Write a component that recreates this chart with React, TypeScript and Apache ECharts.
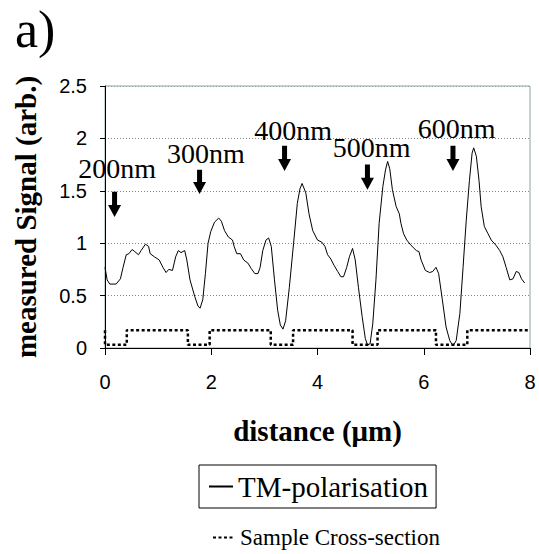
import React, { useEffect, useRef } from "react";
import * as echarts from "echarts";

// TM-polarisation measured signal
const tmX = [0, 0.04, 0.09, 0.21, 0.29, 0.34, 0.4, 0.45, 0.51, 0.56, 0.63, 0.68, 0.76, 0.82, 0.85, 0.93, 1.02, 1.09, 1.15, 1.2, 1.27, 1.33, 1.38, 1.43, 1.5, 1.54, 1.6, 1.69, 1.75, 1.79, 1.84, 1.89, 1.94, 1.99, 2.06, 2.14, 2.19, 2.25, 2.32, 2.4, 2.43, 2.48, 2.55, 2.61, 2.69, 2.75, 2.82, 2.88, 2.92, 2.97, 3.03, 3.08, 3.13, 3.19, 3.25, 3.3, 3.35, 3.4, 3.47, 3.55, 3.62, 3.67, 3.71, 3.78, 3.84, 3.91, 4.0, 4.08, 4.14, 4.19, 4.25, 4.31, 4.38, 4.44, 4.49, 4.55, 4.6, 4.66, 4.71, 4.77, 4.84, 4.9, 4.94, 4.99, 5.04, 5.1, 5.16, 5.23, 5.28, 5.32, 5.36, 5.41, 5.48, 5.54, 5.57, 5.62, 5.68, 5.76, 5.86, 5.91, 5.95, 6.03, 6.11, 6.17, 6.23, 6.28, 6.35, 6.42, 6.49, 6.55, 6.61, 6.68, 6.74, 6.8, 6.86, 6.91, 6.94, 6.99, 7.04, 7.08, 7.14, 7.21, 7.27, 7.36, 7.43, 7.49, 7.55, 7.62, 7.68, 7.74, 7.79, 7.84, 7.9];
const tmY = [0.77, 0.65, 0.61, 0.61, 0.66, 0.77, 0.89, 0.9, 0.94, 0.92, 0.89, 0.93, 0.99, 0.97, 0.9, 0.87, 0.84, 0.77, 0.72, 0.75, 0.74, 0.87, 0.93, 0.91, 0.93, 0.84, 0.65, 0.49, 0.4, 0.38, 0.46, 0.71, 1.0, 1.11, 1.2, 1.24, 1.21, 1.12, 1.06, 1.03, 0.97, 0.9, 0.9, 0.84, 0.81, 0.76, 0.71, 0.71, 0.77, 0.93, 1.03, 1.05, 0.97, 0.65, 0.36, 0.22, 0.18, 0.26, 0.58, 1.0, 1.38, 1.52, 1.57, 1.48, 1.28, 1.12, 1.03, 1.01, 0.97, 0.89, 0.85, 0.79, 0.73, 0.68, 0.68, 0.77, 0.87, 0.95, 0.84, 0.58, 0.3, 0.09, 0.03, 0.04, 0.23, 0.65, 1.19, 1.54, 1.7, 1.78, 1.71, 1.51, 1.35, 1.28, 1.19, 1.09, 1.03, 0.98, 0.93, 0.92, 0.84, 0.74, 0.72, 0.73, 0.77, 0.71, 0.46, 0.2, 0.07, 0.02, 0.07, 0.33, 0.77, 1.22, 1.6, 1.86, 1.91, 1.83, 1.6, 1.35, 1.16, 1.09, 1.03, 0.98, 0.93, 0.87, 0.77, 0.65, 0.66, 0.73, 0.72, 0.66, 0.62];

// Sample cross-section profile
const sampleX = [0, 0, 0.41, 0.41, 1.56, 1.56, 1.97, 1.97, 3.12, 3.12, 3.54, 3.54, 4.66, 4.66, 5.13, 5.13, 6.23, 6.23, 6.82, 6.82, 8];
const sampleY = [0.17, 0.03, 0.03, 0.17, 0.17, 0.03, 0.03, 0.17, 0.17, 0.03, 0.03, 0.17, 0.17, 0.03, 0.03, 0.17, 0.17, 0.03, 0.03, 0.17, 0.17];

// Annotations
const labelText = ["200nm", "300nm", "400nm", "500nm", "600nm"];
const arrowX = [0.18, 1.78, 3.38, 4.94, 6.55];
const arrowTip = [1.25, 1.47, 1.69, 1.51, 1.69];
const arrowTop = [1.49, 1.7, 1.93, 1.75, 1.93];
const labelX = [0.23, 1.9, 3.54, 5.02, 6.62];
const labelBaseline = [1.635, 1.78, 2.0, 1.84, 2.02];

const xTicks = { min: 0, max: 8, interval: 2 };
const yTicks = { min: 0, max: 2.5, interval: 0.5 };

export default function App() {
  const ref = useRef<HTMLDivElement>(null);
  useEffect(() => {
    if (!ref.current) return;
    const chart = echarts.init(ref.current, null, { renderer: "svg" });
    const serif = "'Liberation Serif', 'Times New Roman', serif";
    const sans = "'Liberation Sans', Arial, sans-serif";
    const annData = arrowX.map((x, i) => [x, arrowTip[i], arrowTop[i], labelX[i], labelBaseline[i]]);
    chart.setOption({
      animation: false,
      backgroundColor: "#fff",
      title: {
        text: "a)",
        left: 10,
        top: -2,
        textStyle: { fontFamily: serif, fontSize: 52, fontWeight: "normal", color: "#000" },
      },
      grid: {
        left: 105,
        top: 86,
        right: 9,
        bottom: 206,
        show: true,
        borderColor: "#8fa3a3",
        borderWidth: 1,
        backgroundColor: "transparent",
      },
      xAxis: {
        type: "value",
        min: xTicks.min,
        max: xTicks.max,
        interval: xTicks.interval,
        name: "distance (μm)",
        nameLocation: "middle",
        nameGap: 68,
        nameTextStyle: { fontFamily: serif, fontSize: 29, fontWeight: "bold", color: "#000" },
        axisLine: { show: true, onZero: false, lineStyle: { color: "#000", width: 1 } },
        axisTick: { show: true, inside: false, length: 7, lineStyle: { color: "#000" } },
        axisLabel: { fontFamily: sans, fontSize: 20, color: "#000", margin: 24 },
        splitLine: { show: false },
      },
      yAxis: {
        type: "value",
        min: yTicks.min,
        max: yTicks.max,
        interval: yTicks.interval,
        name: "measured Signal (arb.)",
        nameLocation: "middle",
        nameRotate: 90,
        nameGap: 65,
        nameTextStyle: { fontFamily: serif, fontSize: 29, fontWeight: "bold", color: "#000" },
        axisLine: { show: true, onZero: false, lineStyle: { color: "#000", width: 1 } },
        axisTick: { show: true, inside: false, length: 5, lineStyle: { color: "#000" } },
        axisLabel: { fontFamily: sans, fontSize: 20, color: "#000", margin: 18 },
        splitLine: {
          show: true,
          lineStyle: { color: ["#888", "#888", "#888", "#888", "#888", "#8fa3a3"], type: [1, 2], width: 1 },
        },
      },
      legend: [
        {
          data: ["TM-polarisation"],
          left: 199,
          top: 465,
          orient: "vertical",
          padding: [7, 8, 7, 9],
          borderColor: "#000",
          borderWidth: 1,
          itemWidth: 24,
          itemHeight: 14,
          selectedMode: false,
          itemStyle: { opacity: 0 },
          textStyle: { fontFamily: serif, fontSize: 29, color: "#000" },
        },
        {
          data: ["Sample Cross-section"],
          left: 212,
          top: 526,
          orient: "vertical",
          padding: 0,
          itemWidth: 22,
          itemHeight: 14,
          selectedMode: false,
          itemStyle: { opacity: 0 },
          textStyle: { fontFamily: serif, fontSize: 23, color: "#000" },
        },
      ],
      series: [
        {
          name: "TM-polarisation",
          type: "line",
          data: tmX.map((x, i) => [x, tmY[i]]),
          symbol: "none",
          showSymbol: false,
          lineStyle: { color: "#000", width: 1 },
          itemStyle: { color: "#000" },
          z: 3,
        },
        {
          name: "Sample Cross-section",
          type: "line",
          data: sampleX.map((x, i) => [x, sampleY[i]]),
          symbol: "none",
          showSymbol: false,
          lineStyle: { color: "#000", width: 2.5, type: [3, 2.5] },
          itemStyle: { color: "#000" },
          z: 2,
        },
        {
          name: "annotations",
          type: "custom",
          clip: false,
          data: annData,
          encode: { x: 0, y: 1 },
          z: 4,
          renderItem: (params: any, api: any) => {
            const x = api.value(0);
            const tip = api.coord([x, api.value(1)]);
            const top = api.coord([x, api.value(2)]);
            const lab = api.coord([api.value(3), api.value(4)]);
            const cx = tip[0];
            const hw = 2.5;
            const headW = 6.5;
            const headH = 12;
            return {
              type: "group",
              children: [
                {
                  type: "polygon",
                  shape: {
                    points: [
                      [cx - hw, top[1]],
                      [cx + hw, top[1]],
                      [cx + hw, tip[1] - headH],
                      [cx + headW, tip[1] - headH],
                      [cx, tip[1]],
                      [cx - headW, tip[1] - headH],
                      [cx - hw, tip[1] - headH],
                    ],
                  },
                  style: { fill: "#000" },
                },
                {
                  type: "text",
                  x: lab[0],
                  y: lab[1] + 6,
                  style: {
                    text: labelText[params.dataIndex],
                    font: "28px " + serif,
                    fill: "#000",
                    textAlign: "center",
                    textVerticalAlign: "bottom",
                  },
                },
              ],
            };
          },
        },
      ],
    });
    return () => chart.dispose();
  }, []);
  return (
    <div
      ref={ref}
      style={{ position: "fixed", left: 0, top: 0, width: 539, height: 554 }}
    />
  );
}
